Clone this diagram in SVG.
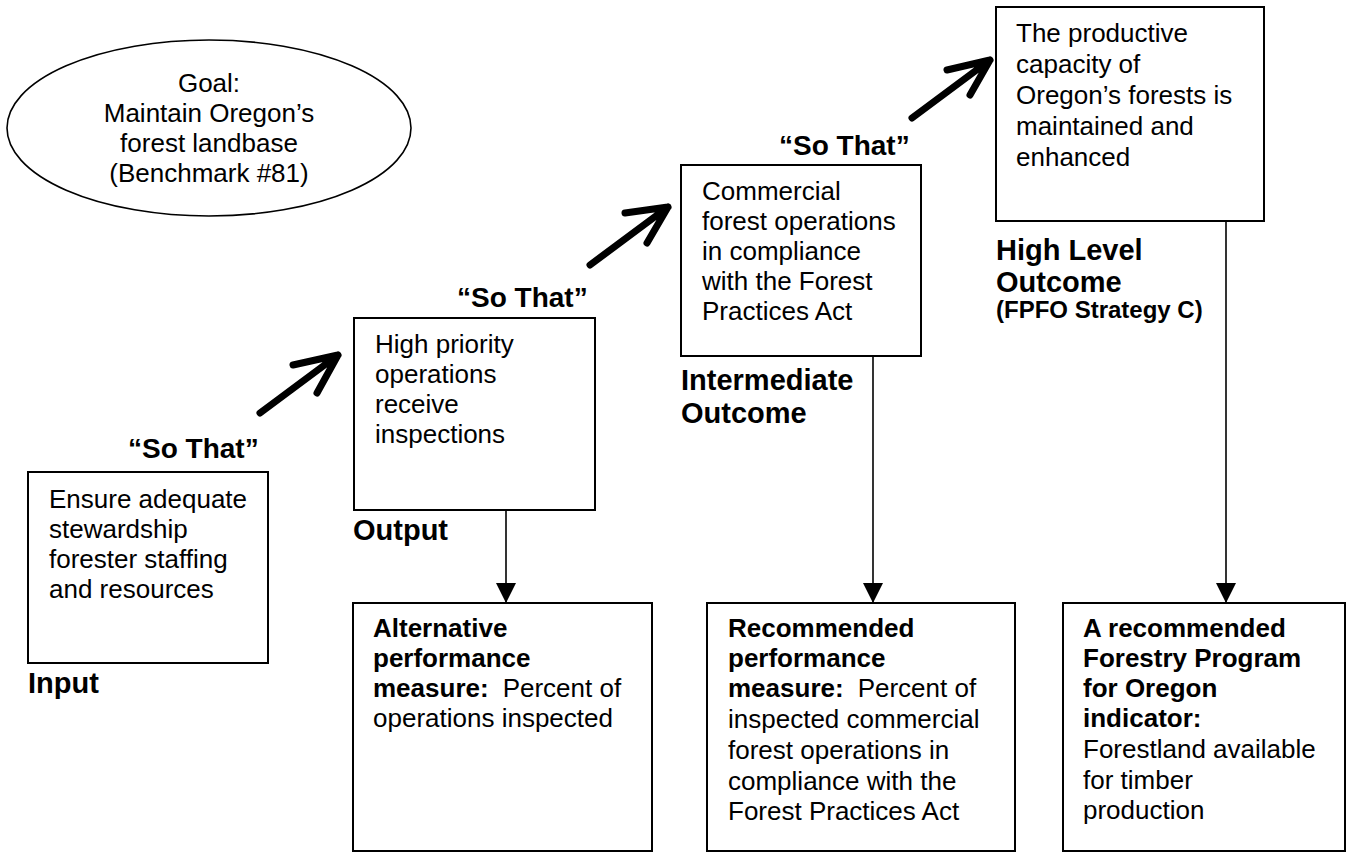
<svg xmlns="http://www.w3.org/2000/svg" width="1350" height="853" viewBox="0 0 1350 853">
<defs>
<style>
text{font-family:"Liberation Sans",Arial,sans-serif;fill:#000}
.t{font-size:26px}
.b{font-size:26px;font-weight:bold}
.lbl{font-size:29px;font-weight:bold}
.st{font-size:28px;font-weight:bold}
.sm{font-size:24px;font-weight:bold}
.box{fill:#fff;stroke:#000;stroke-width:2}
.thin{stroke:#000;stroke-width:1.6;fill:none}
.thick{stroke:#000;stroke-width:7;fill:none;stroke-linecap:round;stroke-linejoin:round}
</style>
<marker id="ah" markerWidth="20" markerHeight="20" viewBox="0 0 20 20" refX="20" refY="10" orient="auto" markerUnits="userSpaceOnUse">
<path d="M0,0 L20,10 L0,20 Z" fill="#000"/>
</marker>
</defs>
<rect width="1350" height="853" fill="#fff"/>

<g id="goal">
<ellipse cx="209" cy="128" rx="202" ry="88" fill="#fff" stroke="#000" stroke-width="1.6"/>
<text class="t" text-anchor="middle" x="209" y="92">Goal:</text>
<text class="t" text-anchor="middle" x="209" y="122">Maintain Oregon’s</text>
<text class="t" text-anchor="middle" x="209" y="152">forest landbase</text>
<text class="t" text-anchor="middle" x="209" y="182">(Benchmark #81)</text>
</g>

<g id="input">
<rect class="box" x="28" y="472" width="240" height="191"/>
<text class="t" x="49" y="508">Ensure adequate</text>
<text class="t" x="49" y="538">stewardship</text>
<text class="t" x="49" y="568">forester staffing</text>
<text class="t" x="49" y="598">and resources</text>
<text class="lbl" x="28" y="693">Input</text>
</g>

<g id="output">
<rect class="box" x="354" y="318" width="241" height="192"/>
<text class="t" x="375" y="353">High priority</text>
<text class="t" x="375" y="383">operations</text>
<text class="t" x="375" y="413">receive</text>
<text class="t" x="375" y="443">inspections</text>
<text class="lbl" x="353" y="540">Output</text>
</g>

<g id="intermediate">
<rect class="box" x="681" y="165" width="240" height="191"/>
<text class="t" x="702" y="200">Commercial</text>
<text class="t" x="702" y="230">forest operations</text>
<text class="t" x="702" y="260">in compliance</text>
<text class="t" x="702" y="290">with the Forest</text>
<text class="t" x="702" y="320">Practices Act</text>
<text class="lbl" x="681" y="390">Intermediate</text>
<text class="lbl" x="681" y="423">Outcome</text>
</g>

<g id="highlevel">
<rect class="box" x="996" y="7" width="268" height="214"/>
<text class="t" x="1016" y="42">The productive</text>
<text class="t" x="1016" y="73">capacity of</text>
<text class="t" x="1016" y="104">Oregon’s forests is</text>
<text class="t" x="1016" y="135">maintained and</text>
<text class="t" x="1016" y="166">enhanced</text>
<text class="lbl" x="996" y="260">High Level</text>
<text class="lbl" x="996" y="292">Outcome</text>
<text class="sm" x="996" y="318">(FPFO Strategy C)</text>
</g>

<g id="sothat">
<text class="st" x="128" y="458">“So That”</text>
<text class="st" x="457" y="307">“So That”</text>
<text class="st" x="779" y="155">“So That”</text>
</g>

<g id="measure-alt">
<rect class="box" x="353" y="603" width="299" height="248"/>
<text class="b" x="373" y="637">Alternative</text>
<text class="b" x="373" y="667">performance</text>
<text x="373" y="697"><tspan class="b">measure:</tspan><tspan class="t" dx="14">Percent of</tspan></text>
<text class="t" x="373" y="727">operations inspected</text>
</g>

<g id="measure-rec">
<rect class="box" x="707" y="603" width="308" height="248"/>
<text class="b" x="728" y="637">Recommended</text>
<text class="b" x="728" y="667">performance</text>
<text x="728" y="697"><tspan class="b">measure:</tspan><tspan class="t" dx="14">Percent of</tspan></text>
<text class="t" x="728" y="728">inspected commercial</text>
<text class="t" x="728" y="759">forest operations in</text>
<text class="t" x="728" y="790">compliance with the</text>
<text class="t" x="728" y="820">Forest Practices Act</text>
</g>

<g id="indicator">
<rect class="box" x="1063" y="603" width="282" height="248"/>
<text class="b" x="1083" y="637">A recommended</text>
<text class="b" x="1083" y="667">Forestry Program</text>
<text class="b" x="1083" y="697">for Oregon</text>
<text class="b" x="1083" y="727">indicator:</text>
<text class="t" x="1083" y="758">Forestland available</text>
<text class="t" x="1083" y="789">for timber</text>
<text class="t" x="1083" y="819">production</text>
</g>

<g id="connectors">
<path class="thick" d="M260,413 L338,355 M293,365 L338,355 L317,393"/>
<path class="thick" d="M590,265 L668,207 M625,213 L668,207 L647,243"/>
<path class="thick" d="M912,118 L990,60 M947,70 L990,60 L970,95"/>
<line class="thin" x1="506" y1="510" x2="506" y2="603" marker-end="url(#ah)"/>
<line class="thin" x1="873" y1="356" x2="873" y2="603" marker-end="url(#ah)"/>
<line class="thin" x1="1226" y1="221" x2="1226" y2="603" marker-end="url(#ah)"/>
</g>
</svg>
